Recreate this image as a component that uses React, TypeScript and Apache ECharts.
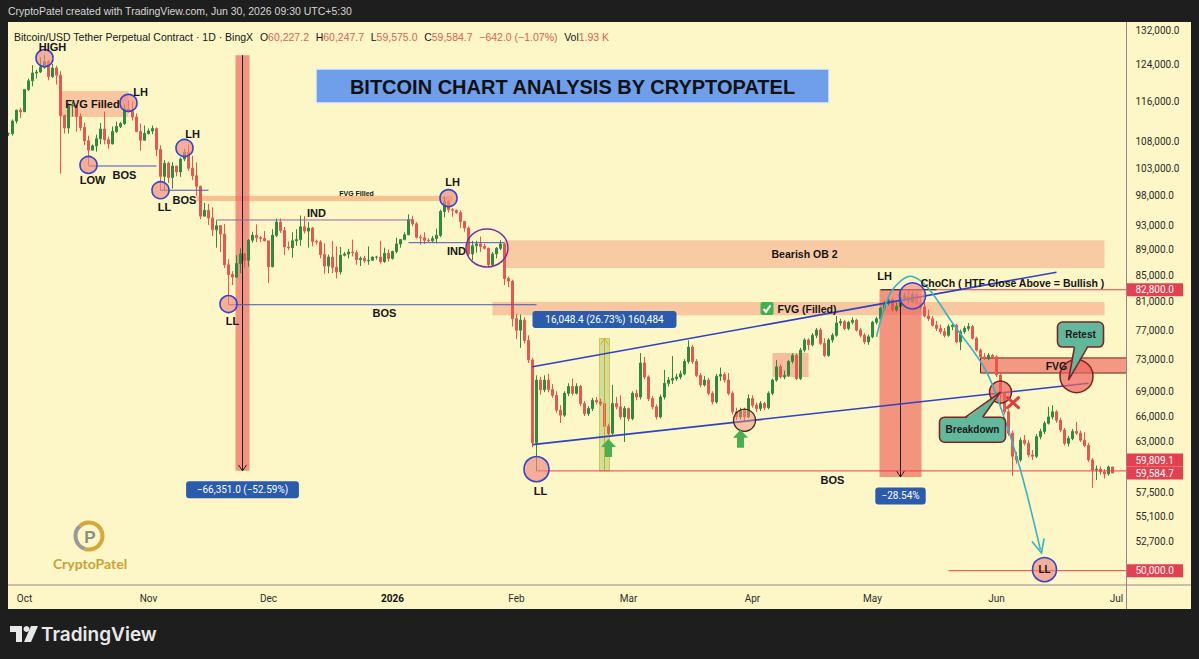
import React, { useEffect, useRef } from 'react';
import * as echarts from 'echarts';

// ---------------- calendar ----------------
const FIRST_DAY = Date.UTC(2025, 8, 27);
const AXIS_DAYS = 280; // 2025-09-27 .. 2026-07-03
const dates: string[] = Array.from({ length: AXIS_DAYS }, (_, i) =>
  new Date(FIRST_DAY + i * 86400000).toISOString().slice(0, 10)
);
const RIGHT_DAY = '2026-07-03';

const timeTicks: [string, string][] = [
  ['2025-10-01', 'Oct'], ['2025-11-01', 'Nov'], ['2025-12-01', 'Dec'], ['2026-01-01', '2026'],
  ['2026-02-01', 'Feb'], ['2026-03-01', 'Mar'], ['2026-04-01', 'Apr'], ['2026-05-01', 'May'],
  ['2026-06-01', 'Jun'], ['2026-07-01', 'Jul'],
];

const priceTicks = [132000, 124000, 116000, 108000, 103000, 98000, 93000, 89000, 85000, 81000,
  77000, 73000, 69000, 66000, 63000, 57500, 55100, 52700];

// ---------------- daily OHLC (thousand USDT): [open, high, low, close] ----------------
const sep2025 = [
  [109.6, 109.8, 109.1, 109.6], [109.6, 112.4, 109.2, 112.1], [112.1, 114.4, 111.6, 114.3], [114.3, 114.8, 112.7, 114.0],
];
const oct2025 = [
  [114.0, 118.6, 113.9, 118.6], [118.6, 121.0, 118.3, 120.5], [120.5, 123.9, 119.3, 122.2], [122.2, 122.9, 121.0, 122.4],
  [122.4, 125.7, 122.2, 123.5], [123.5, 126.2, 123.1, 124.7], [124.7, 125.1, 120.6, 121.4], [121.4, 124.2, 121.1, 123.3],
  [123.3, 123.8, 119.7, 121.7], [121.7, 122.6, 102.0, 113.2], [113.2, 113.4, 109.6, 110.7], [110.7, 115.8, 109.6, 115.2],
  [115.2, 116.0, 113.0, 115.3], [115.3, 115.4, 110.0, 113.0], [113.0, 113.6, 110.2, 110.8], [110.8, 111.8, 107.4, 108.2],
  [108.2, 109.2, 103.5, 106.4], [106.4, 107.5, 106.3, 107.2], [107.2, 109.4, 106.1, 108.6], [108.6, 111.7, 107.5, 110.5],
  [110.5, 114.0, 107.5, 108.4], [108.4, 109.0, 106.7, 107.6], [107.6, 111.0, 107.5, 110.0], [110.0, 112.0, 109.7, 111.0],
  [111.0, 111.9, 110.7, 111.6], [111.6, 115.5, 111.3, 114.5], [114.5, 116.4, 113.8, 114.1], [114.1, 116.1, 112.2, 112.9],
  [112.9, 113.6, 109.9, 110.0], [110.0, 111.6, 106.3, 108.3], [108.3, 111.2, 108.3, 109.6],
];
const nov2025 = [
  [109.6, 110.6, 109.4, 110.1], [110.1, 111.2, 109.5, 110.6], [110.6, 110.8, 105.3, 106.5], [106.5, 107.3, 98.9, 101.5],
  [101.5, 104.5, 98.9, 103.9], [103.9, 104.2, 100.3, 101.3], [101.3, 104.1, 99.3, 103.4], [103.4, 103.4, 101.5, 102.3],
  [102.3, 105.0, 101.4, 104.7], [104.7, 106.7, 104.3, 106.0], [106.0, 107.5, 102.5, 103.0], [103.0, 105.3, 100.8, 101.6],
  [101.6, 104.1, 98.0, 99.7], [99.7, 99.8, 94.0, 94.5], [94.5, 96.8, 94.5, 95.5], [95.5, 96.6, 93.0, 94.2],
  [94.2, 96.0, 91.2, 92.2], [92.2, 93.8, 89.3, 92.9], [92.9, 92.9, 88.6, 91.5], [91.5, 93.2, 86.1, 86.6],
  [86.6, 87.5, 80.6, 85.1], [85.1, 85.6, 83.5, 84.7], [84.7, 88.1, 84.6, 86.8], [86.8, 89.2, 85.3, 88.3],
  [88.3, 88.5, 86.1, 87.3], [87.3, 90.7, 86.3, 90.5], [90.5, 91.9, 90.1, 91.3], [91.3, 93.1, 90.2, 90.9],
  [90.9, 91.2, 90.2, 90.8], [90.8, 92.0, 90.3, 90.4],
];
const dec2025 = [
  [90.4, 90.4, 83.8, 86.3], [86.3, 92.3, 86.2, 91.3], [91.3, 94.1, 91.0, 93.5], [93.5, 94.1, 91.7, 92.1],
  [92.1, 92.7, 88.1, 89.4], [89.4, 90.3, 88.9, 89.3], [89.3, 91.8, 87.7, 90.4], [90.4, 92.3, 89.6, 90.6],
  [90.6, 94.6, 89.6, 92.7], [92.7, 94.5, 91.6, 92.0], [92.0, 93.5, 89.3, 92.5], [92.5, 92.7, 89.5, 90.3],
  [90.3, 90.6, 89.8, 90.2], [90.2, 90.5, 87.6, 88.2], [88.2, 90.0, 85.2, 86.4], [86.4, 88.2, 85.3, 87.8],
  [87.8, 90.4, 85.3, 86.2], [86.2, 89.5, 84.5, 85.5], [85.5, 89.4, 85.1, 88.1], [88.1, 88.6, 87.9, 88.3],
  [88.3, 89.1, 87.6, 88.6], [88.6, 90.6, 87.9, 88.5], [88.5, 88.9, 86.6, 87.4], [87.4, 87.9, 86.4, 87.6],
  [87.6, 88.0, 86.9, 87.2], [87.2, 89.5, 86.6, 87.3], [87.3, 87.9, 87.2, 87.8], [87.8, 88.0, 87.4, 87.8],
  [87.8, 90.4, 86.8, 87.1], [87.1, 89.3, 86.9, 88.4], [88.4, 89.0, 87.1, 87.6],
];
const jan2026 = [
  [87.6, 88.8, 87.4, 88.7], [88.7, 90.9, 88.4, 89.9], [89.9, 90.7, 89.3, 90.6], [90.6, 91.8, 90.5, 91.4],
  [91.4, 94.8, 91.3, 93.9], [93.9, 94.5, 92.8, 93.2], [93.2, 93.5, 90.8, 91.0], [91.0, 91.4, 89.8, 90.9],
  [90.9, 91.8, 89.9, 90.5], [90.5, 90.8, 90.2, 90.4], [90.4, 91.2, 90.1, 90.8], [90.8, 92.4, 90.0, 91.3],
  [91.3, 95.6, 91.0, 95.3], [95.3, 97.9, 94.3, 97.0], [97.0, 97.2, 95.1, 95.6], [95.6, 95.9, 94.4, 95.5],
  [95.5, 95.6, 94.9, 95.1], [95.1, 95.5, 92.5, 93.6], [93.6, 93.6, 91.9, 92.5], [92.5, 92.8, 87.9, 88.3],
  [88.3, 90.4, 87.3, 89.6], [89.6, 90.4, 88.5, 89.9], [89.9, 91.1, 88.6, 89.5], [89.5, 89.9, 89.0, 89.2],
  [89.2, 89.3, 86.2, 86.6], [86.6, 88.6, 86.4, 88.3], [88.3, 89.4, 87.6, 89.2], [89.2, 90.5, 88.9, 89.9],
  [89.9, 90.1, 83.5, 84.5], [84.5, 84.8, 83.2, 84.1], [84.1, 84.3, 77.5, 78.6],
];
const feb2026 = [
  [78.6, 79.3, 75.8, 77.0], [77.0, 79.2, 74.6, 78.4], [78.4, 78.8, 75.2, 75.6], [75.6, 76.3, 72.6, 73.0],
  [73.0, 73.3, 62.4, 62.9], [62.9, 71.0, 59.809, 70.4], [70.4, 70.8, 68.6, 69.2], [69.2, 71.0, 68.9, 70.4],
  [70.4, 71.2, 68.9, 69.2], [69.2, 69.9, 68.2, 68.5], [68.5, 69.0, 66.4, 66.7], [66.7, 67.3, 65.2, 66.1],
  [66.1, 69.0, 65.9, 68.75], [68.75, 70.0, 68.4, 69.6], [69.6, 70.6, 68.5, 68.75], [68.75, 70.0, 68.6, 69.6],
  [69.6, 69.8, 67.2, 67.5], [67.5, 67.8, 66.0, 66.3], [66.3, 67.2, 66.0, 66.9], [66.9, 68.2, 66.6, 67.9],
  [67.9, 68.3, 67.4, 67.7], [67.7, 68.1, 67.2, 67.5], [67.5, 67.9, 64.5, 64.8], [64.8, 65.1, 63.8, 64.0],
  [64.0, 69.8, 63.8, 67.5], [67.5, 68.3, 66.8, 67.1], [67.1, 68.5, 65.6, 65.9], [65.9, 67.2, 63.0, 66.9],
];
const mar2026 = [
  [66.9, 67.0, 65.4, 65.7], [65.7, 69.0, 65.5, 68.75], [68.75, 69.2, 67.9, 68.3], [68.3, 73.9, 68.0, 72.6],
  [72.6, 73.4, 70.5, 70.8], [70.8, 71.0, 67.8, 68.1], [68.1, 68.4, 66.8, 67.1], [67.1, 67.4, 65.6, 65.9],
  [65.9, 68.6, 65.7, 68.3], [68.3, 71.7, 68.0, 70.0], [70.0, 70.8, 69.6, 70.4], [70.4, 73.5, 69.9, 70.6],
  [70.6, 71.2, 70.3, 70.8], [70.8, 71.6, 70.5, 71.2], [71.2, 73.1, 71.0, 72.8], [72.8, 75.6, 72.5, 74.7],
  [74.7, 75.0, 72.5, 72.8], [72.8, 73.1, 70.8, 71.0], [71.0, 71.3, 69.5, 69.8], [69.8, 70.9, 69.6, 70.4],
  [70.4, 70.7, 68.5, 68.75], [68.75, 69.0, 67.4, 67.7], [67.7, 71.2, 67.5, 70.9], [70.9, 72.0, 70.3, 71.1],
  [71.1, 71.4, 70.1, 70.4], [70.4, 71.3, 68.5, 68.75], [68.75, 69.0, 66.2, 66.5], [66.5, 67.0, 65.5, 65.9],
  [65.9, 67.0, 65.6, 66.7], [66.7, 67.0, 65.3, 65.9], [65.9, 68.6, 65.8, 68.1],
];
const apr2026 = [
  [68.1, 68.5, 67.0, 67.3], [67.3, 67.6, 66.5, 66.9], [66.9, 67.8, 66.6, 67.5], [67.5, 67.7, 66.7, 67.0],
  [67.0, 69.0, 66.8, 68.75], [68.75, 70.6, 68.5, 70.4], [70.4, 73.0, 70.2, 72.1], [72.1, 72.4, 70.6, 70.8],
  [70.8, 71.6, 70.5, 71.0], [71.0, 73.0, 70.8, 72.8], [72.8, 73.9, 72.5, 73.6], [73.6, 73.8, 70.4, 70.6],
  [70.6, 74.6, 70.4, 74.3], [74.3, 75.9, 74.0, 75.66], [75.66, 75.9, 74.3, 75.0], [75.0, 76.6, 74.8, 76.3],
  [76.3, 77.3, 75.9, 77.03], [77.03, 77.3, 75.0, 75.2], [75.2, 75.9, 73.4, 73.6], [73.6, 75.9, 73.4, 75.66],
  [75.66, 76.6, 75.3, 76.3], [76.3, 79.0, 76.1, 78.0], [78.0, 78.6, 77.6, 78.2], [78.2, 78.4, 77.0, 77.25],
  [77.25, 78.3, 77.0, 78.1], [78.1, 78.8, 77.8, 78.4], [78.4, 78.6, 76.8, 77.03], [77.03, 77.3, 76.0, 76.3],
  [76.3, 76.6, 75.1, 75.4], [75.4, 76.4, 75.0, 76.1],
];
const may2026 = [
  [76.1, 78.3, 75.9, 78.1], [78.1, 78.9, 77.8, 78.6], [78.6, 80.3, 78.4, 80.1], [80.1, 81.1, 79.7, 80.8],
  [80.8, 81.6, 80.5, 81.3], [81.3, 81.5, 79.6, 79.85], [79.85, 80.9, 79.6, 80.35], [80.35, 81.9, 80.0, 81.56],
  [81.56, 82.4, 81.1, 81.9], [81.9, 82.8, 80.6, 81.0], [81.0, 82.5, 80.8, 82.1], [82.1, 82.3, 80.5, 80.8],
  [80.8, 81.6, 79.9, 80.3], [80.3, 80.9, 78.8, 79.0], [79.0, 79.9, 78.3, 78.6], [78.6, 79.0, 77.5, 77.7],
  [77.7, 78.3, 76.9, 77.25], [77.25, 77.8, 76.5, 76.8], [76.8, 77.3, 76.0, 76.3], [76.3, 77.8, 76.1, 77.5],
  [77.5, 78.0, 77.0, 77.7], [77.7, 77.9, 75.2, 75.4], [75.4, 77.1, 74.3, 76.8], [76.8, 77.6, 76.5, 77.25],
  [77.25, 78.0, 76.9, 77.5], [77.5, 77.7, 75.7, 75.9], [75.9, 76.1, 74.1, 74.3], [74.3, 74.5, 73.2, 73.4],
  [73.4, 73.9, 73.0, 73.2], [73.2, 73.9, 73.0, 73.6], [73.6, 73.8, 73.1, 73.4],
];
const jun2026 = [
  [73.4, 73.6, 70.8, 71.05], [71.05, 71.3, 66.9, 68.75], [68.75, 69.0, 66.2, 66.5], [66.5, 66.8, 63.7, 64.0],
  [64.0, 64.3, 59.3, 61.4], [61.4, 61.9, 60.6, 61.0], [61.0, 63.5, 60.8, 63.2], [63.2, 63.8, 62.6, 62.85],
  [62.85, 63.2, 61.3, 61.55], [61.55, 62.1, 61.0, 61.4], [61.4, 63.9, 61.2, 63.6], [63.6, 64.5, 63.3, 64.2],
  [64.2, 65.4, 63.9, 65.15], [65.15, 67.1, 65.0, 65.9], [65.9, 67.3, 65.6, 66.5], [66.5, 66.7, 65.2, 65.5],
  [65.5, 65.8, 64.1, 64.37], [64.37, 64.6, 62.6, 62.85], [62.85, 63.7, 62.5, 63.4], [63.4, 64.5, 63.2, 64.2],
  [64.2, 65.3, 63.8, 64.0], [64.0, 64.3, 63.0, 63.2], [63.2, 64.1, 62.4, 62.6], [62.6, 62.9, 60.8, 61.0],
  [61.0, 61.2, 58.0, 59.9], [59.9, 60.4, 58.84, 60.0], [60.0, 60.3, 59.4, 59.7], [59.7, 60.0, 59.0, 59.5],
  [59.5, 60.4, 59.3, 60.2272], [60.2272, 60.2477, 59.575, 59.5847],
];

// ---------------- annotations (in date / price terms) ----------------
const zones = [
  { from: '2025-10-10', to: '2025-10-27', top: 118300, bottom: 112900, kind: 'fvg' },
  { from: '2025-11-13', to: '2026-01-16', top: 98000, bottom: 97100, kind: 'thin' },
  { from: '2026-01-29', to: '2026-06-28', top: 90500, bottom: 86100, kind: 'ob' },
  { from: '2026-01-26', to: '2026-06-28', top: 81000, bottom: 79100, kind: 'fvg' },
  { from: '2026-04-06', to: '2026-04-15', top: 73900, bottom: 70800, kind: 'box' },
  { from: '2026-05-28', to: RIGHT_DAY, top: 73260, bottom: 71300, kind: 'open' },
];
const levelLines = [
  { from: '2025-10-17', to: '2025-11-03', p: 103400, kind: 'blue' },
  { from: '2025-11-04', to: '2025-11-16', p: 99000, kind: 'blue' },
  { from: '2025-11-18', to: '2026-01-06', p: 93850, kind: 'purple' },
  { from: '2025-11-21', to: '2026-02-06', p: 80600, kind: 'blue' },
  { from: '2026-01-05', to: '2026-01-29', p: 90100, kind: 'blue' },
  { from: '2026-02-06', to: RIGHT_DAY, p: 59809.1, kind: 'red' },
  { from: '2026-05-03', to: RIGHT_DAY, p: 82800, kind: 'red' },
  { from: '2026-05-20', to: RIGHT_DAY, p: 50000, kind: 'red' },
  { from: '2026-05-03', to: '2026-05-17', p: 82800, kind: 'black' },
];
const trendLines = [
  { a: ['2026-02-05', 72100], b: ['2026-06-16', 85450] },
  { a: ['2026-02-05', 62700], b: ['2026-06-24', 70000] },
];
const swingCircles = [
  { d: '2025-10-06', p: 125500, r: 8.5 }, { d: '2025-10-27', p: 115800, r: 8.5 },
  { d: '2025-10-17', p: 103600, r: 8.5 }, { d: '2025-11-04', p: 99000, r: 8.5 },
  { d: '2025-11-10', p: 106800, r: 8.5 }, { d: '2025-11-21', p: 80700, r: 8.5 },
  { d: '2026-01-15', p: 97600, r: 8.5 }, { d: '2026-02-06', p: 60000, r: 12.5 },
  { d: '2026-05-11', p: 81900, r: 13 }, { d: '2026-06-13', p: 50100, r: 12 },
];
const eventCircles = [
  { d: '2026-03-30', p: 65500, r: 11, kind: 'soft' },
  { d: '2026-06-02', p: 68900, r: 11, kind: 'hard' },
  { d: '2026-06-21', p: 70900, r: 16.5, kind: 'hard' },
];
const swingLabels: [string, string, number, number][] = [
  ['HIGH', '2025-10-08', 128000, 11], ['FVG Filled', '2025-10-18', 115600, 11], ['LH', '2025-10-30', 118100, 11],
  ['LOW', '2025-10-18', 100800, 11], ['BOS', '2025-10-26', 101700, 11], ['LH', '2025-11-12', 109500, 11],
  ['LL', '2025-11-05', 96000, 11], ['BOS', '2025-11-10', 97300, 11], ['FVG Filled', '2025-12-23', 98400, 7],
  ['IND', '2025-12-13', 95000, 11], ['LL', '2025-11-22', 78300, 11], ['BOS', '2025-12-30', 79400, 11],
  ['LH', '2026-01-16', 100400, 11], ['IND', '2026-01-17', 88800, 11], ['Bearish OB 2', '2026-04-14', 88300, 10.5],
  ['LH', '2026-05-04', 84900, 11], ['ChoCh ( HTF Close Above = Bullish )', '2026-06-05', 83800, 10.5],
  ['LL', '2026-02-07', 57700, 11], ['BOS', '2026-04-21', 58800, 11], ['FVG', '2026-06-16', 72200, 10.5],
  ['LL', '2026-06-13', 50100, 10],
];
const measures = [
  { from: '2025-11-23', to: '2025-11-26', p0: 126165, p1: 59814, label: '−66,351.0 (−52.59%)' },
  { from: '2026-02-22', to: '2026-02-24', p0: 59809, p1: 75857, label: '16,048.4 (26.73%) 160,484' },
  { from: '2026-05-03', to: '2026-05-13', p0: 82800, p1: 59169, label: '−28.54%' },
];
const projectionPath: [string, number][] = [
  ['2026-05-02', 76100], ['2026-05-05', 81750], ['2026-05-08', 84100], ['2026-05-11', 84800],
  ['2026-05-15', 83000], ['2026-05-21', 78000], ['2026-05-29', 71950], ['2026-06-02', 67100],
  ['2026-06-07', 59900], ['2026-06-12', 51900],
];
const upArrows: [string, number][] = [['2026-02-24', 63350], ['2026-03-29', 64400]];
const crossMark: [string, number] = ['2026-06-05', 67600];
const ellipseMark = { d: '2026-01-25', p: 89250 };
const fvgCheck: [string, number] = ['2026-04-14', 80000];
const callouts = [
  { text: 'Breakdown', at: ['2026-05-26', 64400], tip: ['2026-06-02', 68900], w: 66, h: 25, side: 'top', base: [-7, 10] },
  { text: 'Retest', at: ['2026-06-22', 76400], tip: ['2026-06-19', 70400], w: 46, h: 25, side: 'bottom', base: [-6, 7] },
];
const priceTags = [
  { p: 82800, text: '82,800.0', lift: 0 },
  { p: 59584.7, text: '59,809.1', lift: 13 },
  { p: 59584.7, text: '59,584.7', lift: 0 },
  { p: 50000, text: '50,000.0', lift: 0 },
];

// ---------------- styles ----------------
const UP = '#2e8a3e';
const DOWN = '#e8564c';
const BG = '#fdf6c6';
const FRAME = '#1e1e1e';
const FONT = '"Liberation Sans", Arial, sans-serif';
const AXIS_FONT = 'Roboto, "Liberation Sans", sans-serif';
const lineColor: Record<string, string> = { blue: '#4457c6', purple: '#9064a4', red: '#e4404e', black: '#222222' };
const zoneStyle: Record<string, any> = {
  fvg: { fill: 'rgba(243,150,120,0.5)' },
  thin: { fill: 'rgba(243,160,105,0.6)' },
  ob: { fill: 'rgba(246,160,130,0.5)' },
  box: { fill: 'rgba(240,120,105,0.45)' },
  open: { fill: 'rgba(238,112,100,0.7)', stroke: '#6e2222', lineWidth: 1 },
};

const dayIndex = (d: string) => dates.indexOf(d);
const fmtPrice = (v: number) =>
  (Math.round(v * 10) / 10).toLocaleString('en-US', { minimumFractionDigits: 1, maximumFractionDigits: 1 });

function buildOption() {
  const all = [...sep2025, ...oct2025, ...nov2025, ...dec2025, ...jan2026, ...feb2026, ...mar2026, ...apr2026, ...may2026, ...jun2026];
  const candles = all.map(([o, h, l, c]) => [o * 1000, c * 1000, Math.min(l, o, c) * 1000, Math.max(h, o, c) * 1000]);
  const tickMap = new Map(timeTicks);
  return {
    animation: false,
    backgroundColor: BG,
    grid: { left: 6.5, right: 72.5, top: 22, bottom: 74 },
    xAxis: {
      type: 'category',
      data: dates,
      boundaryGap: true,
      axisLine: { show: false },
      axisTick: { show: false },
      splitLine: { show: false },
      axisLabel: {
        interval: (_i: number, v: string) => tickMap.has(v),
        formatter: (v: string) => (v === '2026-01-01' ? '{b|2026}' : '{n|' + (tickMap.get(v) || '') + '}'),
        margin: 8,
        rich: {
          n: { fontSize: 10, color: '#2f2f2f', fontFamily: AXIS_FONT },
          b: { fontSize: 10, color: '#111', fontWeight: 'bold', fontFamily: AXIS_FONT },
        },
      },
    },
    yAxis: {
      type: 'log',
      logBase: 10,
      min: 48731,
      max: 133910,
      position: 'right',
      axisLine: { show: false },
      axisTick: { show: false },
      splitLine: { show: false },
      axisLabel: {
        customValues: priceTicks,
        formatter: (v: number) => fmtPrice(v),
        color: '#2b2b2b',
        fontSize: 10,
        fontFamily: AXIS_FONT,
        margin: 9,
      },
    },
    series: [
      {
        type: 'candlestick',
        data: candles,
        barWidth: 2,
        z: 2,
        itemStyle: { color: UP, color0: DOWN, borderColor: UP, borderColor0: DOWN, borderWidth: 1 },
      },
    ],
  };
}

function buildGraphic(chart: any) {
  const P = (d: string, p: number): [number, number] => {
    const r = chart.convertToPixel({ seriesIndex: 0 }, [dayIndex(d), p]);
    return [r[0], r[1]];
  };
  const out: any[] = [];
  const rightX = P(RIGHT_DAY, 60000)[0] + 2;
  const xOf = (d: string) => (d === RIGHT_DAY ? rightX : P(d, 60000)[0]);
  const bold = (size: number) => `bold ${size}px ${FONT}`;

  zones.forEach((zn) => {
    const x0 = xOf(zn.from), x1 = xOf(zn.to);
    const y0 = P(zn.from, zn.top)[1], y1 = P(zn.from, zn.bottom)[1];
    out.push({ type: 'rect', silent: true, z: 1, shape: { x: x0, y: y0, width: x1 - x0, height: y1 - y0 }, style: { ...zoneStyle[zn.kind] } });
  });

  measures.forEach((m) => {
    const x0 = xOf(m.from) - 1, x1 = xOf(m.to) + 1;
    const y0 = P(m.from, m.p0)[1], y1 = P(m.from, m.p1)[1];
    const up = m.p1 > m.p0;
    const top = Math.min(y0, y1), bot = Math.max(y0, y1);
    out.push({ type: 'rect', z: 1, silent: true, shape: { x: x0, y: top, width: x1 - x0, height: bot - top },
      style: { fill: up ? 'rgba(150,195,95,0.45)' : 'rgba(238,95,88,0.65)', stroke: up ? 'rgba(205,185,70,0.8)' : null, lineWidth: 1 } });
    const cx = (x0 + x1) / 2;
    const col = up ? '#d2a92c' : '#1e1e1e';
    out.push({ type: 'line', z: 3, shape: { x1: cx, y1: y0, x2: cx, y2: y1 }, style: { stroke: col, lineWidth: 1 } });
    const dir = up ? 1 : -1;
    out.push({ type: 'polyline', z: 3, shape: { points: [[cx - 4, y1 + dir * 6], [cx, y1], [cx + 4, y1 + dir * 6]] }, style: { stroke: col, lineWidth: 1, fill: null } });
    const w = m.label.length * 5.2 + 14;
    const ly = up ? top - 19 : bot + 19;
    out.push({ type: 'rect', z: 12, shape: { x: cx - w / 2, y: ly - 8.5, width: w, height: 17, r: 3 }, style: { fill: '#2a5bad' } });
    out.push({ type: 'text', z: 13, x: cx, y: ly, style: { text: m.label, font: `10px ${AXIS_FONT}`, fill: '#ffffff', align: 'center', verticalAlign: 'middle' } });
  });

  levelLines.forEach((l) => {
    const [x0, y] = P(l.from, l.p);
    const x1 = xOf(l.to);
    out.push({ type: 'line', z: 5, shape: { x1: x0, y1: y, x2: x1, y2: y }, style: { stroke: lineColor[l.kind], lineWidth: 1 } });
  });

  trendLines.forEach((t) => {
    const a = P(t.a[0] as string, t.a[1] as number), b = P(t.b[0] as string, t.b[1] as number);
    out.push({ type: 'line', z: 5, shape: { x1: a[0], y1: a[1], x2: b[0], y2: b[1] }, style: { stroke: '#2d43c6', lineWidth: 1.6 } });
  });

  const pts = projectionPath.map(([d, p]) => P(d, p));
  out.push({ type: 'polyline', z: 7, shape: { points: pts, smooth: 0.35 }, style: { stroke: '#36b4c6', lineWidth: 1.6, fill: null } });
  {
    const [ex, ey] = pts[pts.length - 1];
    const [qx, qy] = pts[pts.length - 2];
    const ang = Math.atan2(ey - qy, ex - qx);
    const L = 12;
    const a1 = [ex - L * Math.cos(ang - 0.55), ey - L * Math.sin(ang - 0.55)];
    const a2 = [ex - L * Math.cos(ang + 0.55), ey - L * Math.sin(ang + 0.55)];
    out.push({ type: 'polyline', z: 7, shape: { points: [a1, [ex + 1, ey + 3], a2] }, style: { stroke: '#36b4c6', lineWidth: 1.6, fill: null } });
  }

  {
    const [cx, cy] = P(ellipseMark.d, ellipseMark.p);
    out.push({ type: 'ellipse', z: 6, shape: { cx: cx - 1.5, cy, rx: 21, ry: 19 }, style: { fill: null, stroke: '#7a2f9e', lineWidth: 1.5 } });
  }

  swingCircles.forEach((c) => {
    const [cx, cy] = P(c.d, c.p);
    out.push({ type: 'circle', z: 6, shape: { cx, cy, r: c.r }, style: { fill: 'rgba(240,135,130,0.65)', stroke: '#3447c8', lineWidth: 1.6 } });
  });
  eventCircles.forEach((c) => {
    const [cx, cy] = P(c.d, c.p);
    out.push({ type: 'circle', z: 6, shape: { cx, cy, r: c.r },
      style: c.kind === 'soft'
        ? { fill: 'rgba(240,140,130,0.5)', stroke: '#3c2a20', lineWidth: 1.3 }
        : { fill: 'rgba(238,100,95,0.7)', stroke: '#7a2323', lineWidth: 1.5 } });
  });

  upArrows.forEach(([d, p]) => {
    const [x, y] = P(d, p);
    out.push({ type: 'polygon', z: 8, shape: { points: [[x, y], [x + 7.5, y + 8], [x + 3.5, y + 8], [x + 3.5, y + 18], [x - 3.5, y + 18], [x - 3.5, y + 8], [x - 7.5, y + 8]] }, style: { fill: '#4aae52' } });
  });

  {
    const [x, y] = P(crossMark[0], crossMark[1]);
    out.push({ type: 'line', z: 8, shape: { x1: x - 5, y1: y - 5, x2: x + 6, y2: y + 5 }, style: { stroke: '#e23d3d', lineWidth: 3, lineCap: 'round' } });
    out.push({ type: 'line', z: 8, shape: { x1: x + 6, y1: y - 5, x2: x - 5, y2: y + 5 }, style: { stroke: '#e23d3d', lineWidth: 3, lineCap: 'round' } });
  }

  swingLabels.forEach(([t, d, p, s]) => {
    const [x, y] = P(d, p);
    out.push({ type: 'text', z: 9, x, y, style: { text: t, font: bold(s), fill: '#151515', align: 'center', verticalAlign: 'middle' } });
  });

  {
    const [x, y] = P(fvgCheck[0], fvgCheck[1]);
    out.push({ type: 'rect', z: 9, shape: { x: x - 44, y: y - 7, width: 13, height: 13, r: 2 }, style: { fill: '#3fb44e' } });
    out.push({ type: 'polyline', z: 9, shape: { points: [[x - 41, y], [x - 38.5, y + 3], [x - 34, y - 3.5]] }, style: { stroke: '#ffffff', lineWidth: 2, fill: null } });
    out.push({ type: 'text', z: 9, x: x - 27, y, style: { text: 'FVG (Filled)', font: bold(10.5), fill: '#151515', align: 'left', verticalAlign: 'middle' } });
  }

  callouts.forEach((c) => {
    const [cx, cy] = P(c.at[0] as string, c.at[1] as number);
    const [tx, ty] = P(c.tip[0] as string, c.tip[1] as number);
    const x0 = cx - c.w / 2, y0 = cy - c.h / 2;
    const baseY = c.side === 'top' ? y0 : y0 + c.h;
    const inset = c.side === 'top' ? 1.5 : -1.5;
    const b1 = cx + c.base[0], b2 = cx + c.base[1];
    out.push({ type: 'rect', z: 10, shape: { x: x0, y: y0, width: c.w, height: c.h, r: 5 }, style: { fill: '#62b89b', stroke: '#7a2626', lineWidth: 1.6 } });
    out.push({ type: 'polygon', z: 10.5, shape: { points: [[b1, baseY + inset], [tx, ty], [b2, baseY + inset]] }, style: { fill: '#62b89b' } });
    out.push({ type: 'polyline', z: 10.6, shape: { points: [[b1, baseY], [tx, ty], [b2, baseY]] }, style: { stroke: '#7a2626', lineWidth: 1.6, fill: null } });
    out.push({ type: 'text', z: 11, x: cx, y: cy, style: { text: c.text, font: bold(10), fill: '#1a1a1a', align: 'center', verticalAlign: 'middle' } });
  });

  priceTags.forEach((t) => {
    const y = P(RIGHT_DAY, t.p)[1] - t.lift;
    out.push({ type: 'rect', z: 14, shape: { x: rightX + 0.5, y: y - 6.5, width: 56, height: 13 }, style: { fill: '#e5404f' } });
    out.push({ type: 'text', z: 15, x: rightX + 9, y, style: { text: t.text, font: `10px ${AXIS_FONT}`, fill: '#ffffff', align: 'left', verticalAlign: 'middle' } });
  });

  out.push({ type: 'line', z: 14, shape: { x1: rightX, y1: 22, x2: rightX, y2: 609 }, style: { stroke: '#9c8593', lineWidth: 1 } });
  out.push({ type: 'line', z: 14, shape: { x1: 8, y1: 585, x2: 1191, y2: 585 }, style: { stroke: '#9c8593', lineWidth: 1 } });

  out.push({ type: 'rect', z: 12, shape: { x: 316, y: 69, width: 513, height: 34 }, style: { fill: '#6f9feb', stroke: '#e6ecf7', lineWidth: 1.5 } });
  out.push({ type: 'text', z: 13, x: 572.5, y: 86.5, style: { text: 'BITCOIN CHART ANALYSIS BY CRYPTOPATEL', font: `bold 20px ${FONT}`, fill: '#111111', align: 'center', verticalAlign: 'middle' } });

  out.push({ type: 'text', z: 13, x: 14, y: 37, style: {
    text: '{t|Bitcoin/USD Tether Perpetual Contract · 1D · BingX}  {t|O}{v|60,227.2}  {t|H}{v|60,247.7}  {t|L}{v|59,575.0}  {t|C}{v|59,584.7}  {v|−642.0 (−1.07%)}  {t|Vol}{v|1.93 K}',
    align: 'left', verticalAlign: 'middle',
    rich: { t: { fill: '#131722', font: `10.5px ${FONT}` }, v: { fill: '#e0605a', font: `10.5px ${FONT}` } },
  } });

  out.push({ type: 'arc', z: 12, shape: { cx: 89, cy: 536, r: 13.5, startAngle: -2.3, endAngle: 1.9 }, style: { stroke: '#d6a73a', lineWidth: 4, fill: null } });
  out.push({ type: 'arc', z: 12, shape: { cx: 89, cy: 536, r: 13.5, startAngle: 1.9, endAngle: 3.98 }, style: { stroke: '#9a9a9a', lineWidth: 4, fill: null } });
  out.push({ type: 'text', z: 12, x: 90, y: 537, style: { text: 'P', font: `bold 17px ${FONT}`, fill: '#8e8e8e', align: 'center', verticalAlign: 'middle' } });
  out.push({ type: 'text', z: 12, x: 90, y: 563, style: { text: 'CryptoPatel', font: `bold 14px Lato, ${FONT}`, fill: '#c9a23c', align: 'center', verticalAlign: 'middle' } });

  out.push({ type: 'rect', z: 20, shape: { x: 0, y: 0, width: 1199, height: 22 }, style: { fill: FRAME } });
  out.push({ type: 'rect', z: 20, shape: { x: 0, y: 609, width: 1199, height: 50 }, style: { fill: FRAME } });
  out.push({ type: 'rect', z: 20, shape: { x: 0, y: 0, width: 8, height: 659 }, style: { fill: FRAME } });
  out.push({ type: 'rect', z: 20, shape: { x: 1191, y: 0, width: 8, height: 659 }, style: { fill: FRAME } });
  out.push({ type: 'text', z: 21, x: 8, y: 11, style: { text: 'CryptoPatel created with TradingView.com, Jun 30, 2026 09:30 UTC+5:30', font: `10.5px ${FONT}`, fill: '#d6d6d6', align: 'left', verticalAlign: 'middle' } });

  out.push({ type: 'polygon', z: 21, shape: { points: [[10, 626], [22, 626], [22, 642], [16, 642], [16, 632], [10, 632]] }, style: { fill: '#e8e8e8' } });
  out.push({ type: 'circle', z: 21, shape: { cx: 26.5, cy: 629, r: 3 }, style: { fill: '#e8e8e8' } });
  out.push({ type: 'polygon', z: 21, shape: { points: [[31, 626], [38, 626], [31, 642], [24, 642]] }, style: { fill: '#e8e8e8' } });
  out.push({ type: 'text', z: 21, x: 41, y: 634, style: { text: 'TradingView', font: `600 19px Inter, ${FONT}`, fill: '#e8e8e8', align: 'left', verticalAlign: 'middle' } });

  return out;
}

export default function App() {
  const ref = useRef<HTMLDivElement>(null);
  useEffect(() => {
    const el = ref.current;
    if (!el) return;
    const chart = echarts.init(el, null, { renderer: 'svg' });
    chart.setOption(buildOption() as any);
    chart.setOption({ graphic: buildGraphic(chart) } as any);
    return () => chart.dispose();
  }, []);
  return <div ref={ref} style={{ position: 'absolute', left: 0, top: 0, width: 1199, height: 659 }} />;
}
